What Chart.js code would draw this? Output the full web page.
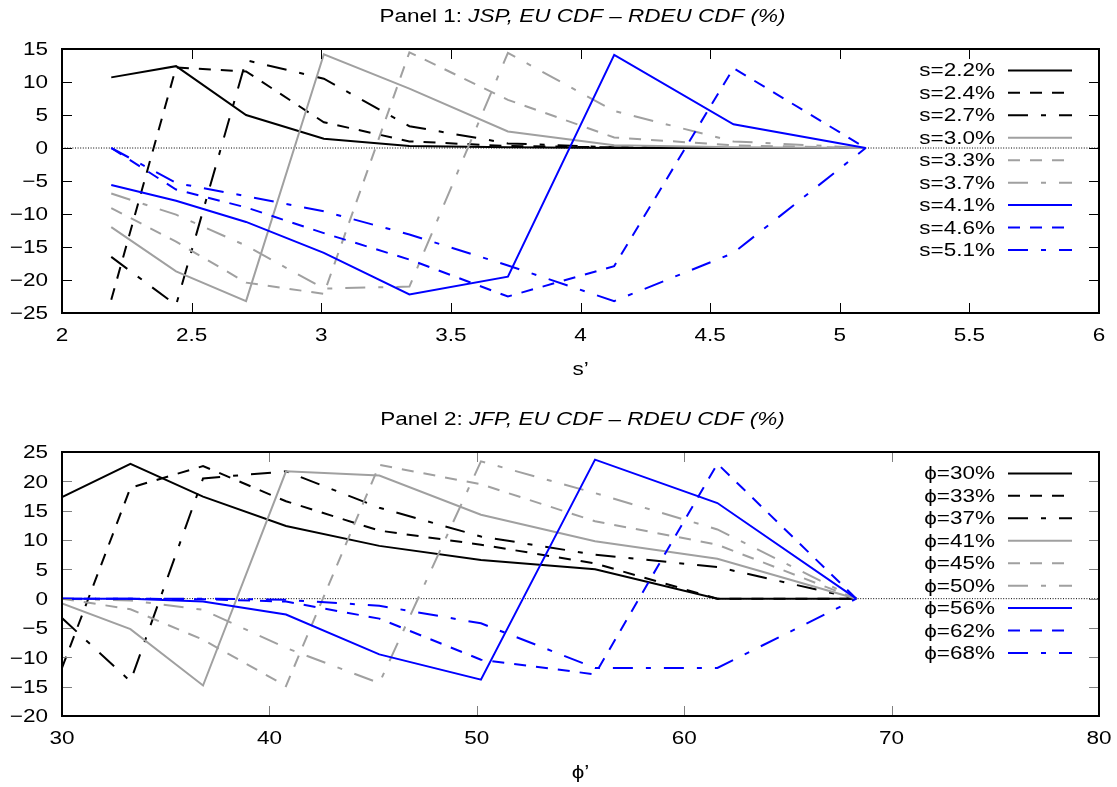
<!DOCTYPE html>
<html><head><meta charset="utf-8">
<script src="https://cdn.jsdelivr.net/npm/chart.js@4.4.0/dist/chart.umd.min.js"></script>
<style>
html,body{margin:0;padding:0;background:#fff;width:1117px;height:787px;overflow:hidden}
.wrap{position:absolute;left:0;width:1117px}
canvas{display:block}
</style></head><body>
<div class="wrap" style="top:0;height:400px"><canvas id="c1" width="1117" height="400"></canvas></div>
<div class="wrap" style="top:400px;height:387px"><canvas id="c2" width="1117" height="387"></canvas></div>
<script>
// ---------- Panel 1 ----------
const S_X = [2.19, 2.44, 2.71, 3.01, 3.34, 3.72, 4.13, 4.59, 5.10];
const S_LABELS = ['s=2.2%', 's=2.4%', 's=2.7%', 's=3.0%', 's=3.3%', 's=3.7%', 's=4.1%', 's=4.6%', 's=5.1%'];
const S22 = [10.7, 12.4, 5.0, 1.4, 0.3, 0.1, 0.0, 0.0, 0.0];
const S24 = [-23.0, 12.2, 11.6, 3.9, 1.0, 0.3, 0.1, 0.0, 0.0];
const S27 = [-16.5, -23.8, 13.3, 10.5, 3.3, 0.7, 0.1, 0.0, 0.0];
const S30 = [-12.0, -18.7, -23.2, 14.2, 9.0, 2.5, 0.4, 0.1, 0.0];
const S33 = [-9.1, -14.2, -20.4, -22.1, 14.5, 7.3, 1.6, 0.4, 0.0];
const S37 = [-6.9, -10.1, -14.8, -21.3, -21.0, 14.4, 5.6, 1.0, 0.0];
const S41 = [-5.6, -8.0, -11.2, -15.9, -22.2, -19.5, 14.1, 3.6, 0.0];
const S46 = [0.0, -6.3, -9.0, -12.9, -16.9, -22.5, -17.9, 12.1, 0.0];
const S51 = [0.0, -5.3, -7.3, -9.6, -13.1, -17.8, -23.2, -15.9, 0.0];
const X1_TICKS = [2, 2.5, 3, 3.5, 4, 4.5, 5, 5.5, 6];
const X1_TICK_LABELS = ['2', '2.5', '3', '3.5', '4', '4.5', '5', '5.5', '6'];
const Y1_TICKS = [-25, -20, -15, -10, -5, 0, 5, 10, 15];
const Y1_TICK_LABELS = ['\u221225', '\u221220', '\u221215', '\u221210', '\u22125', '0', '5', '10', '15'];

// ---------- Panel 2 ----------
const P_X = [30.0, 33.3, 36.8, 40.8, 45.3, 50.2, 55.7, 61.6, 68.3];
const P_LABELS = ['\u03d5=30%', '\u03d5=33%', '\u03d5=37%', '\u03d5=41%', '\u03d5=45%', '\u03d5=50%', '\u03d5=56%', '\u03d5=62%', '\u03d5=68%'];
const P30 = [17.3, 23.0, 17.4, 12.4, 9.0, 6.6, 5.0, 0.0, 0.0];
const P33 = [-11.8, 18.9, 22.6, 16.6, 11.6, 9.2, 6.0, 0.0, 0.0];
const P37 = [-3.3, -14.1, 20.5, 21.7, 15.5, 10.6, 7.5, 5.4, 0.0];
const P41 = [-0.8, -5.2, -14.8, 21.7, 21.0, 14.3, 9.8, 6.8, 0.0];
const P45 = [0.0, -1.8, -7.0, -14.9, 22.8, 19.5, 13.2, 9.2, 0.0];
const P50 = [0.0, -0.3, -1.9, -8.4, -14.4, 23.4, 18.0, 11.8, 0.0];
const P56 = [0.0, 0.0, -0.5, -2.7, -9.5, -13.8, 23.7, 16.3, 0.0];
const P62 = [0.0, 0.0, -0.1, -0.5, -3.4, -10.4, -12.9, 23.0, 0.0];
const P68 = [0.0, 0.0, 0.0, -0.2, -1.2, -4.2, -11.8, -11.8, 0.0];
const X2_TICKS = [30, 40, 50, 60, 70, 80];
const X2_TICK_LABELS = ['30', '40', '50', '60', '70', '80'];
const Y2_TICKS = [-20, -15, -10, -5, 0, 5, 10, 15, 20, 25];
const Y2_TICK_LABELS = ['\u221220', '\u221215', '\u221210', '\u22125', '0', '5', '10', '15', '20', '25'];

// ---------- styles ----------
const BLACK = '#000000', GREY = '#a0a0a0', BLUE = '#0000ff';
const COLORS = [BLACK, BLACK, BLACK, GREY, GREY, GREY, BLUE, BLUE, BLUE];
const DASHES = [[], [12, 10], [20, 13, 5, 13]];
const FONT = '"Liberation Sans", "DejaVu Sans", Arial, sans-serif';
const FS = 18, SX = 1.25;

function buildDatasets(xs, series, labels) {
  return series.map((ys, i) => ({
    label: labels[i],
    data: xs.map((x, j) => ({x: x, y: ys[j]})),
    borderColor: COLORS[i],
    borderWidth: 2,
    borderDash: DASHES[i % 3],
    pointRadius: 0,
    showLine: true,
    fill: false,
    tension: 0,
    order: 20 - i
  }));
}

function zeroLine(ticks) {
  return {
    label: '_zero',
    data: [{x: ticks[0], y: 0}, {x: ticks[ticks.length - 1], y: 0}],
    borderColor: '#000', borderWidth: 1, borderDash: [1, 1.6],
    pointRadius: 0, showLine: true, fill: false, order: 100
  };
}

function stretchText(ctx, text, x, y, align, font) {
  ctx.save();
  ctx.font = font;
  ctx.translate(x, y);
  ctx.scale(SX, 1);
  ctx.textAlign = align;
  ctx.fillText(text, 0, 0);
  ctx.restore();
}

function decor(cfg) {
  return {
    id: 'decor',
    afterDatasetsDraw(chart) {
      const ctx = chart.ctx, a = chart.chartArea;
      const xs = chart.scales.x, ys = chart.scales.y;
      ctx.save();
      ctx.strokeStyle = cfg.tickColor; ctx.lineWidth = 1; ctx.setLineDash([]);
      ctx.beginPath();
      cfg.xTicks.forEach(v => {
        const p = Math.round(xs.getPixelForValue(v)) + 0.5;
        ctx.moveTo(p, a.bottom); ctx.lineTo(p, a.bottom - 10);
        ctx.moveTo(p, a.top); ctx.lineTo(p, a.top + 10);
      });
      cfg.yTicks.forEach(v => {
        const p = Math.round(ys.getPixelForValue(v)) + 0.5;
        ctx.moveTo(a.left, p); ctx.lineTo(a.left + 10, p);
        ctx.moveTo(a.right, p); ctx.lineTo(a.right - 10, p);
      });
      ctx.stroke();
      ctx.strokeStyle = '#000'; ctx.lineWidth = 2;
      ctx.strokeRect(a.left, a.top, a.right - a.left, a.bottom - a.top);
      ctx.fillStyle = '#000'; ctx.textBaseline = 'middle';
      const f = FS + 'px ' + FONT;
      cfg.xTicks.forEach((v, i) => stretchText(ctx, cfg.xLabels[i], xs.getPixelForValue(v), a.bottom + 23, 'center', f));
      cfg.yTicks.forEach((v, i) => stretchText(ctx, cfg.yLabels[i], 48, ys.getPixelForValue(v) + 1.5, 'right', f));
      stretchText(ctx, cfg.xTitle, (a.left + a.right) / 2, a.bottom + 57, 'center', f);
      const sets = chart.data.datasets.filter(d => d.label !== '_zero');
      sets.forEach((d, i) => {
        const y = a.top + 21.4 + i * 22.45;
        stretchText(ctx, d.label, a.right - 104, y + 1, 'right', f);
        ctx.save();
        ctx.strokeStyle = d.borderColor; ctx.lineWidth = d.borderWidth;
        ctx.setLineDash(d.borderDash); ctx.lineDashOffset = 0;
        ctx.beginPath(); ctx.moveTo(a.right - 91, y); ctx.lineTo(a.right - 27, y); ctx.stroke();
        ctx.restore();
      });
      ctx.textBaseline = 'alphabetic';
      const fN = FS + 'px ' + FONT, fI = 'italic ' + FS + 'px ' + FONT;
      ctx.font = fN; const w1 = ctx.measureText(cfg.title[0]).width * SX;
      ctx.font = fI; const w2 = ctx.measureText(cfg.title[1]).width * SX;
      const x0 = cfg.titleX - (w1 + w2) / 2;
      stretchText(ctx, cfg.title[0], x0, cfg.titleY, 'left', fN);
      stretchText(ctx, cfg.title[1], x0 + w1, cfg.titleY, 'left', fI);
      ctx.restore();
    }
  };
}

function makeChart(id, xs, series, labels, xTicks, xLabels, yTicks, yLabels, padTop, xAxisH, cfgExtra) {
  const datasets = buildDatasets(xs, series, labels);
  datasets.push(zeroLine(xTicks));
  return new Chart(document.getElementById(id), {
    type: 'scatter',
    data: {datasets: datasets},
    options: {
      responsive: false, animation: false, events: [],
      layout: {padding: {top: padTop, right: 18, left: 0, bottom: 0}},
      plugins: {legend: {display: false}, tooltip: {enabled: false}, title: {display: false}},
      scales: {
        x: {
          type: 'linear', min: xTicks[0], max: xTicks[xTicks.length - 1],
          afterBuildTicks: s => { s.ticks = xTicks.map(v => ({value: v})); },
          afterFit: s => { s.height = xAxisH; },
          ticks: {display: false}, grid: {display: false}, border: {display: false}
        },
        y: {
          type: 'linear', min: yTicks[0], max: yTicks[yTicks.length - 1],
          afterBuildTicks: s => { s.ticks = yTicks.map(v => ({value: v})); },
          afterFit: s => { s.width = 62; },
          ticks: {display: false}, grid: {display: false}, border: {display: false}
        }
      }
    },
    plugins: [decor(Object.assign({xTicks, xLabels, yTicks, yLabels}, cfgExtra))]
  });
}

makeChart('c1', S_X, [S22, S24, S27, S30, S33, S37, S41, S46, S51], S_LABELS,
  X1_TICKS, X1_TICK_LABELS, Y1_TICKS, Y1_TICK_LABELS, 49, 87,
  {tickColor: '#000', xTitle: 's\u2019', title: ['Panel 1: ', 'JSP, EU CDF \u2013 RDEU CDF (%)'], titleX: 582.5, titleY: 22});

makeChart('c2', P_X, [P30, P33, P37, P41, P45, P50, P56, P62, P68], P_LABELS,
  X2_TICKS, X2_TICK_LABELS, Y2_TICKS, Y2_TICK_LABELS, 52, 71,
  {tickColor: '#808080', xTitle: '\u03d5\u2019', title: ['Panel 2: ', 'JFP, EU CDF \u2013 RDEU CDF (%)'], titleX: 582.5, titleY: 25});
</script>
</body></html>
